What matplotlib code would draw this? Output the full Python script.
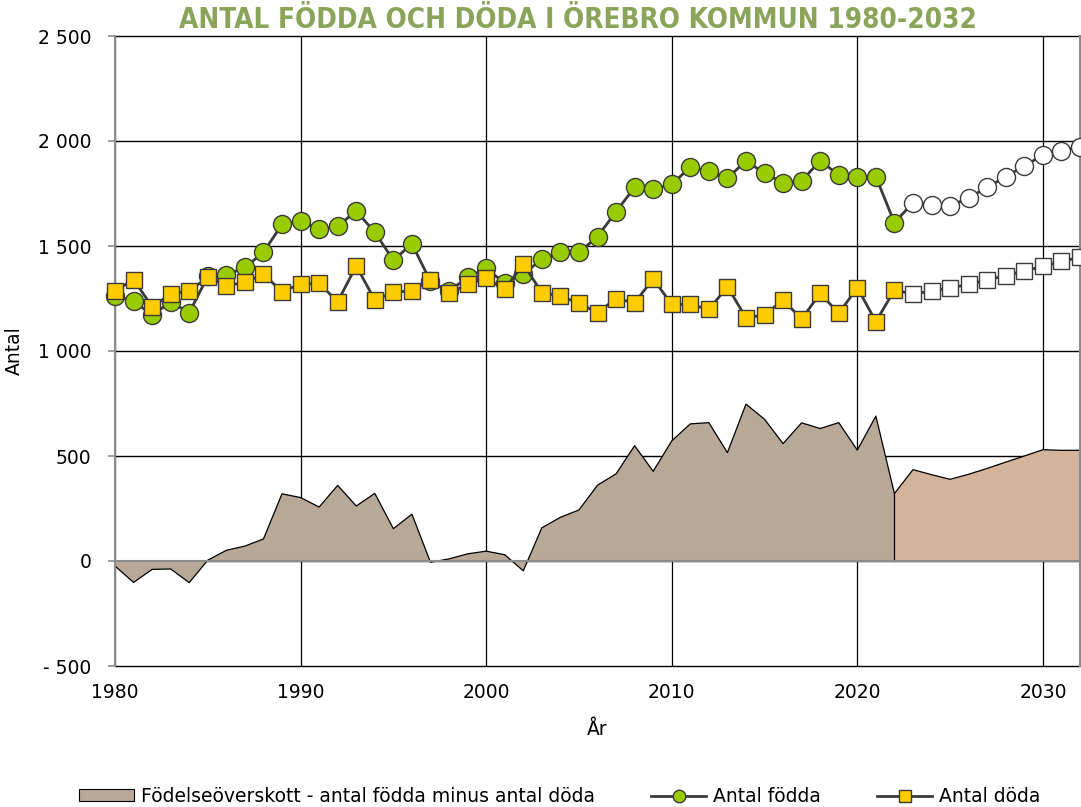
import matplotlib
matplotlib.use("Agg")
import matplotlib.pyplot as plt
from matplotlib.patches import Patch
from matplotlib.lines import Line2D
import numpy as np

# ---- data ----
years_hist = list(range(1980, 2023))
years_fc = list(range(2023, 2033))

born_hist = [1262, 1238, 1171, 1233, 1183, 1355, 1362, 1398, 1470, 1603,
             1621, 1579, 1595, 1667, 1565, 1433, 1510, 1332, 1285, 1351,
             1393, 1324, 1367, 1436, 1470, 1470, 1544, 1664, 1779, 1770,
             1794, 1875, 1857, 1822, 1906, 1846, 1802, 1810, 1906, 1838,
             1830, 1830, 1611]
dead_hist = [1286, 1340, 1211, 1271, 1286, 1351, 1311, 1327, 1365, 1283,
             1319, 1322, 1235, 1405, 1243, 1279, 1287, 1338, 1275, 1317,
             1346, 1294, 1414, 1278, 1262, 1227, 1183, 1249, 1230, 1343,
             1222, 1222, 1198, 1306, 1159, 1171, 1243, 1152, 1275, 1179,
             1302, 1140, 1290]
born_fc = [1706, 1697, 1689, 1730, 1779, 1830, 1881, 1933, 1954, 1973]
dead_fc = [1271, 1286, 1300, 1317, 1338, 1359, 1381, 1403, 1427, 1446]

y_ticks = [-500, 0, 500, 1000, 1500, 2000, 2500]
y_ticklabels = ["- 500", "0", "500", "1 000", "1 500", "2 000", "2 500"]
x_ticks = [1980, 1990, 2000, 2010, 2020, 2030]

title = "ANTAL FÖDDA OCH DÖDA I ÖREBRO KOMMUN 1980-2032"
legend_labels = ["Födelseöverskott - antal födda minus antal döda",
                 "Antal födda", "Antal döda"]

# ---- derived ----
yh = np.array(years_hist)
yf = np.array(years_fc)
surplus_hist = np.array(born_hist) - np.array(dead_hist)
yf_area = np.concatenate([[yh[-1]], yf])
surplus_fc = np.concatenate([[surplus_hist[-1]], np.array(born_fc) - np.array(dead_fc)])
years_all = np.concatenate([yh, yf])
born_all = np.concatenate([born_hist, born_fc])
dead_all = np.concatenate([dead_hist, dead_fc])

plt.rcParams['font.family'] = ['DejaVu Sans']

fig = plt.figure(figsize=(10.81, 8.07), dpi=100)
ax = fig.add_axes([115/1081, 141/807, 965/1081, 630/807])

col_hist_area = "#B8A898"
col_fc_area = "#D2B49C"
line_col = "#3A3A3A"
green = "#99CC00"
yellow = "#FFCC00"

# grid
for xt in x_ticks:
    ax.axvline(xt, color="black", lw=0.9, zorder=0)
for yt in y_ticks:
    ax.axhline(yt, color="black", lw=1.0, zorder=0, clip_on=False)

# areas
ax.fill_between(yh, 0, surplus_hist, facecolor=col_hist_area, edgecolor="none", zorder=1)
ax.fill_between(yf_area, 0, surplus_fc, facecolor=col_fc_area, edgecolor="none", zorder=1)
ax.plot(years_all, np.concatenate([surplus_hist, surplus_fc[1:]]), color="black", lw=0.9, zorder=2)
ax.plot([yh[-1], yh[-1]], [0, surplus_hist[-1]], color="black", lw=0.9, zorder=2)
ax.axhline(0, color="#8C8C8C", lw=1.5, zorder=2)

# born (below) then dead (on top)
ms = 12
ax.plot(years_all, born_all, color=line_col, lw=2.0, zorder=3, clip_on=False)
ax.plot(yh, born_hist, ls="none", marker="o", ms=ms + 1, mfc=green, mec=line_col, mew=1.0, zorder=4, clip_on=False)
ax.plot(yf, born_fc, ls="none", marker="o", ms=ms + 1, mfc="white", mec=line_col, mew=1.0, zorder=4, clip_on=False)
ax.plot(years_all, dead_all, color=line_col, lw=2.0, zorder=5, clip_on=False)
ax.plot(yh, dead_hist, ls="none", marker="s", ms=ms, mfc=yellow, mec=line_col, mew=1.0, zorder=6, clip_on=False)
ax.plot(yf, dead_fc, ls="none", marker="s", ms=ms, mfc="white", mec=line_col, mew=1.0, zorder=6, clip_on=False)

ax.set_xlim(1980, 2032)
ax.set_ylim(-500, 2500)
ax.set_yticks(y_ticks)
ax.set_yticklabels(y_ticklabels)
ax.set_xticks(x_ticks)
ax.tick_params(axis="y", length=5, color="#8C8C8C", width=1.2, labelsize=13.5, pad=12)
ax.tick_params(axis="x", length=0, labelsize=13.5, pad=12)
for s in ["top", "bottom"]:
    ax.spines[s].set_visible(False)
for s in ["left", "right"]:
    ax.spines[s].set_color("#8C8C8C")
    ax.spines[s].set_linewidth(1.5)

ax.set_xlabel("År", fontsize=13.5, labelpad=13)
ax.set_ylabel("Antal", fontsize=13.5, labelpad=10)

fig.text(0.535, 0.975, title, ha="center", va="center", color="#8AA55A",
         fontsize=20, fontweight="bold", fontstretch="condensed",
         family=["DejaVu Sans"])

handles = [Patch(facecolor=col_hist_area, edgecolor="black", lw=0.8),
           Line2D([], [], color=line_col, lw=2, marker="o", ms=9, mfc=green, mec=line_col),
           Line2D([], [], color=line_col, lw=2, marker="s", ms=9, mfc=yellow, mec=line_col)]
fig.legend(handles, legend_labels, loc="center", bbox_to_anchor=(0.518, 0.013),
           ncol=3, frameon=False, fontsize=13.5, handlelength=2.9, handleheight=0.6,
           handletextpad=0.4, columnspacing=3.0)

fig.savefig("out.png", dpi=100)
